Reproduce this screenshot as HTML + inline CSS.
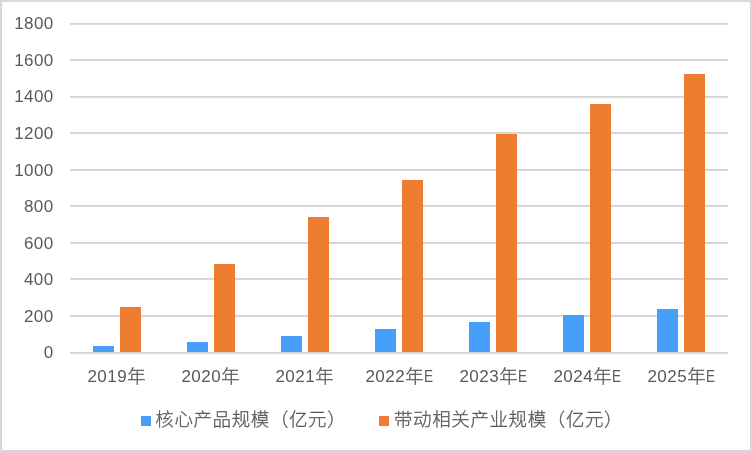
<!DOCTYPE html>
<html lang="zh-CN">
<head>
<meta charset="utf-8">
<title>核心产品规模与带动相关产业规模</title>
<style>
html,body{margin:0;padding:0;background:#fff;}
body{width:752px;height:452px;overflow:hidden;position:relative;font-family:"Liberation Sans","Noto Sans CJK SC",sans-serif;color:#595959;}
#chart{position:absolute;left:0;top:0;width:752px;height:452px;background:#fff;box-sizing:border-box;border:2px solid #d9d9d9;}
#grid{position:absolute;left:0;top:0;}
.b{position:absolute;width:21px;}
.b1{background:#459ffb;}
.b2{background:#ed7d31;}
.yl{position:absolute;left:0;width:53.6px;text-align:right;font-size:17px;line-height:20px;height:20px;white-space:nowrap;letter-spacing:0.4px;}
.xl{position:absolute;width:114px;text-align:center;font-size:17px;line-height:24px;height:24px;top:364.3px;white-space:nowrap;}
.d{letter-spacing:0.5px;}
.c{font-size:18.4px;font-weight:300;-webkit-text-stroke:0.3px #595959;position:relative;top:0.9px;}
.e{display:inline-block;width:8.2px;transform:scaleX(0.80);transform-origin:0 50%;margin-left:0.8px;}
.lg{position:absolute;top:408px;height:24px;line-height:24px;font-size:18.5px;letter-spacing:0.6px;font-weight:300;-webkit-text-stroke:0.3px #595959;white-space:nowrap;}
.mk{position:absolute;top:416px;width:10px;height:10px;}
</style>
</head>
<body>
<div id="chart"></div>
<svg id="grid" width="752" height="452" viewBox="0 0 752 452">
<rect x="70" y="23" width="658" height="2" fill="#dcdcdc"/><line x1="71" y1="23.5" x2="728" y2="23.5" stroke="#cbcbcb" stroke-width="1" stroke-dasharray="1 1"/>
<rect x="70" y="59" width="658" height="2" fill="#dcdcdc"/><line x1="71" y1="59.5" x2="728" y2="59.5" stroke="#cbcbcb" stroke-width="1" stroke-dasharray="1 1"/>
<rect x="70" y="96" width="658" height="2" fill="#dcdcdc"/><line x1="71" y1="96.5" x2="728" y2="96.5" stroke="#cbcbcb" stroke-width="1" stroke-dasharray="1 1"/>
<rect x="70" y="132" width="658" height="2" fill="#dcdcdc"/><line x1="71" y1="132.5" x2="728" y2="132.5" stroke="#cbcbcb" stroke-width="1" stroke-dasharray="1 1"/>
<rect x="70" y="169" width="658" height="2" fill="#dcdcdc"/><line x1="71" y1="169.5" x2="728" y2="169.5" stroke="#cbcbcb" stroke-width="1" stroke-dasharray="1 1"/>
<rect x="70" y="205" width="658" height="2" fill="#dcdcdc"/><line x1="71" y1="205.5" x2="728" y2="205.5" stroke="#cbcbcb" stroke-width="1" stroke-dasharray="1 1"/>
<rect x="70" y="242" width="658" height="2" fill="#dcdcdc"/><line x1="71" y1="242.5" x2="728" y2="242.5" stroke="#cbcbcb" stroke-width="1" stroke-dasharray="1 1"/>
<rect x="70" y="278" width="658" height="2" fill="#dcdcdc"/><line x1="71" y1="278.5" x2="728" y2="278.5" stroke="#cbcbcb" stroke-width="1" stroke-dasharray="1 1"/>
<rect x="70" y="315" width="658" height="2" fill="#dcdcdc"/><line x1="71" y1="315.5" x2="728" y2="315.5" stroke="#cbcbcb" stroke-width="1" stroke-dasharray="1 1"/>
<rect x="70" y="352" width="658" height="2" fill="#dcdcdc"/><line x1="71" y1="352.5" x2="728" y2="352.5" stroke="#cbcbcb" stroke-width="1" stroke-dasharray="1 1"/>
<line x1="1.5" y1="4" x2="1.5" y2="450" stroke="#cbcbcb" stroke-width="1" stroke-dasharray="1 3"/>
<line x1="750.5" y1="3" x2="750.5" y2="450" stroke="#cbcbcb" stroke-width="1" stroke-dasharray="1 3"/>
<line x1="3" y1="450.5" x2="750" y2="450.5" stroke="#cbcbcb" stroke-width="1" stroke-dasharray="1 1"/>
</svg>
<div class="yl" style="top:14px">1800</div>
<div class="yl" style="top:51px">1600</div>
<div class="yl" style="top:87px">1400</div>
<div class="yl" style="top:124px">1200</div>
<div class="yl" style="top:161px">1000</div>
<div class="yl" style="top:197px">800</div>
<div class="yl" style="top:234px">600</div>
<div class="yl" style="top:270px">400</div>
<div class="yl" style="top:307px">200</div>
<div class="yl" style="top:343px">0</div>
<div class="b b1" style="left:93px;top:346px;height:6px"></div>
<div class="b b2" style="left:120px;top:307px;height:45px"></div>
<div class="b b1" style="left:187px;top:342px;height:10px"></div>
<div class="b b2" style="left:214px;top:264px;height:88px"></div>
<div class="b b1" style="left:281px;top:336px;height:16px"></div>
<div class="b b2" style="left:308px;top:217px;height:135px"></div>
<div class="b b1" style="left:375px;top:329px;height:23px"></div>
<div class="b b2" style="left:402px;top:180px;height:172px"></div>
<div class="b b1" style="left:469px;top:322px;height:30px"></div>
<div class="b b2" style="left:496px;top:134px;height:218px"></div>
<div class="b b1" style="left:563px;top:315px;height:37px"></div>
<div class="b b2" style="left:590px;top:104px;height:248px"></div>
<div class="b b1" style="left:657px;top:309px;height:43px"></div>
<div class="b b2" style="left:684px;top:74px;height:278px"></div>
<div class="xl" style="left:59.5px"><span class="d">2019</span><span class="c">年</span></div>
<div class="xl" style="left:153.5px"><span class="d">2020</span><span class="c">年</span></div>
<div class="xl" style="left:247.5px"><span class="d">2021</span><span class="c">年</span></div>
<div class="xl" style="left:342px"><span class="d">2022</span><span class="c">年</span><span class="e">E</span></div>
<div class="xl" style="left:436px"><span class="d">2023</span><span class="c">年</span><span class="e">E</span></div>
<div class="xl" style="left:530px"><span class="d">2024</span><span class="c">年</span><span class="e">E</span></div>
<div class="xl" style="left:624px"><span class="d">2025</span><span class="c">年</span><span class="e">E</span></div>
<div class="mk b1" style="left:141px"></div>
<div class="lg" style="left:155.3px">核心产品规模（亿元）</div>
<div class="mk b2" style="left:379px"></div>
<div class="lg" style="left:394px">带动相关产业规模（亿元）</div>
</body>
</html>
